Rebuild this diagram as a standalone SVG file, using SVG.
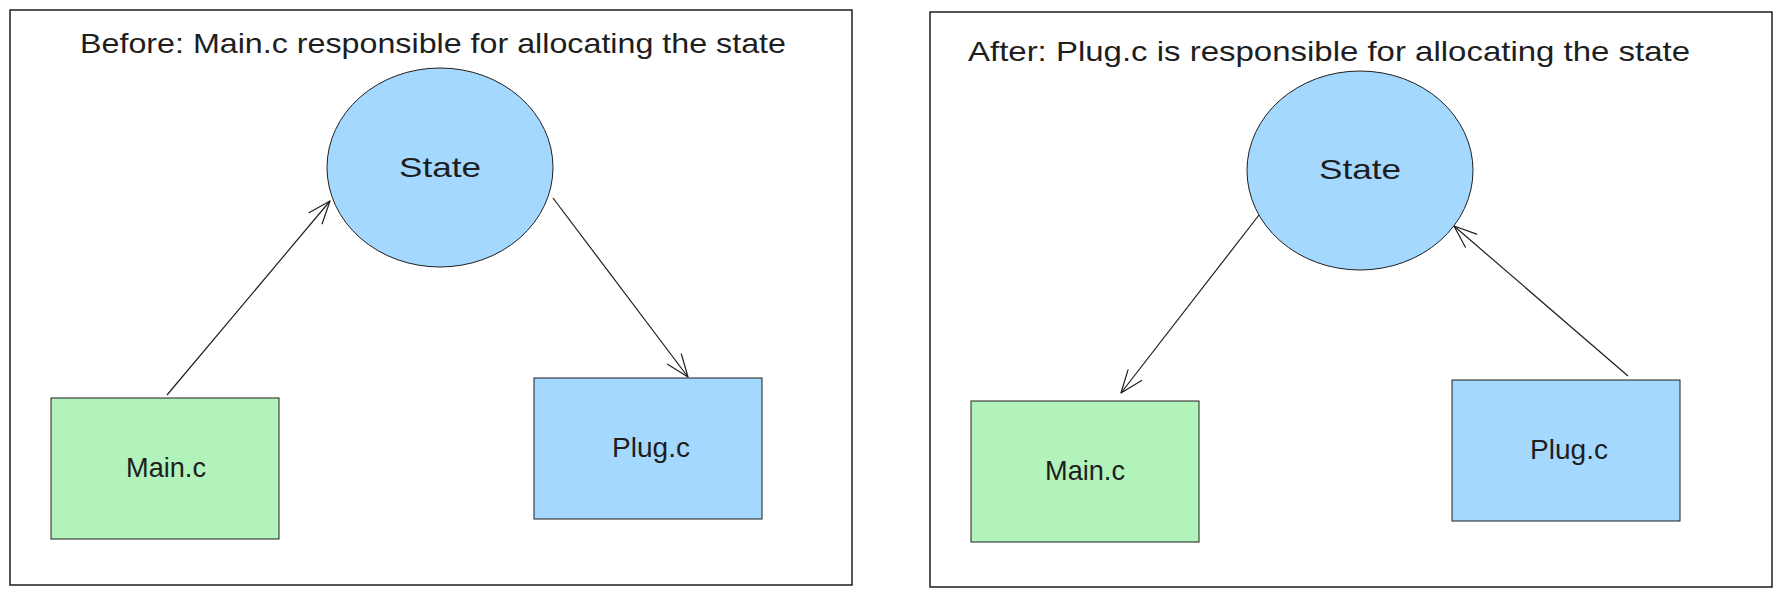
<svg xmlns="http://www.w3.org/2000/svg" width="1782" height="597" viewBox="0 0 1782 597">
  <style>
    .frame { fill: #ffffff; stroke: #1e1e1e; stroke-width: 1.5; }
    .blue { fill: #a5d8ff; stroke: #1e1e1e; stroke-width: 1; }
    .green { fill: #b2f2bb; stroke: #1e1e1e; stroke-width: 1; }
    .title { font-family: "Liberation Sans", Arial, sans-serif; font-size: 28px; fill: #1e1e1e; }
    .label { font-family: "Liberation Sans", Arial, sans-serif; font-size: 28px; fill: #1e1e1e; text-anchor: middle; }
    .conn { stroke: #1e1e1e; stroke-width: 1.2; fill: none; marker-end: url(#arrow); }
  </style>
  <defs>
    <marker id="arrow" markerUnits="userSpaceOnUse" orient="auto" refX="0" refY="0" markerWidth="30" markerHeight="30" overflow="visible">
      <path d="M-22.5,-8.6 L0,0 L-22.5,8.6" fill="none" stroke="#1e1e1e" stroke-width="1.2" stroke-linecap="round" stroke-linejoin="round"/>
    </marker>
  </defs>
  <rect width="1782" height="597" fill="#ffffff"/>

  <g id="frame-before">
    <rect class="frame" x="10" y="10" width="842" height="575"/>
    <text class="title" x="80" y="53" textLength="706" lengthAdjust="spacingAndGlyphs">Before: Main.c responsible for allocating the state</text>
  </g>
  <g id="frame-after">
    <rect class="frame" x="930" y="12" width="842" height="575"/>
    <text class="title" x="968" y="61" textLength="722" lengthAdjust="spacingAndGlyphs">After: Plug.c is responsible for allocating the state</text>
  </g>

  <g id="connectors">
    <line class="conn" x1="167" y1="395" x2="330" y2="201"/>
    <line class="conn" x1="553" y1="198" x2="688" y2="377"/>
    <line class="conn" x1="1259" y1="215" x2="1121" y2="393"/>
    <line class="conn" x1="1628" y1="376" x2="1454" y2="226"/>
  </g>

  <g id="state-before">
    <ellipse class="blue" cx="440" cy="167.5" rx="113" ry="99.5"/>
    <text class="label" x="440" y="177" textLength="82" lengthAdjust="spacingAndGlyphs">State</text>
  </g>
  <g id="main-before">
    <rect class="green" x="51" y="398" width="228" height="141"/>
    <text class="label" x="166" y="477" textLength="80" lengthAdjust="spacingAndGlyphs">Main.c</text>
  </g>
  <g id="plug-before">
    <rect class="blue" x="534" y="378" width="228" height="141"/>
    <text class="label" x="651" y="457" textLength="78" lengthAdjust="spacingAndGlyphs">Plug.c</text>
  </g>

  <g id="state-after">
    <ellipse class="blue" cx="1360" cy="170.5" rx="113" ry="99.5"/>
    <text class="label" x="1360" y="179" textLength="82" lengthAdjust="spacingAndGlyphs">State</text>
  </g>
  <g id="main-after">
    <rect class="green" x="971" y="401" width="228" height="141"/>
    <text class="label" x="1085" y="480" textLength="80" lengthAdjust="spacingAndGlyphs">Main.c</text>
  </g>
  <g id="plug-after">
    <rect class="blue" x="1452" y="380" width="228" height="141"/>
    <text class="label" x="1569" y="459" textLength="78" lengthAdjust="spacingAndGlyphs">Plug.c</text>
  </g>
</svg>
